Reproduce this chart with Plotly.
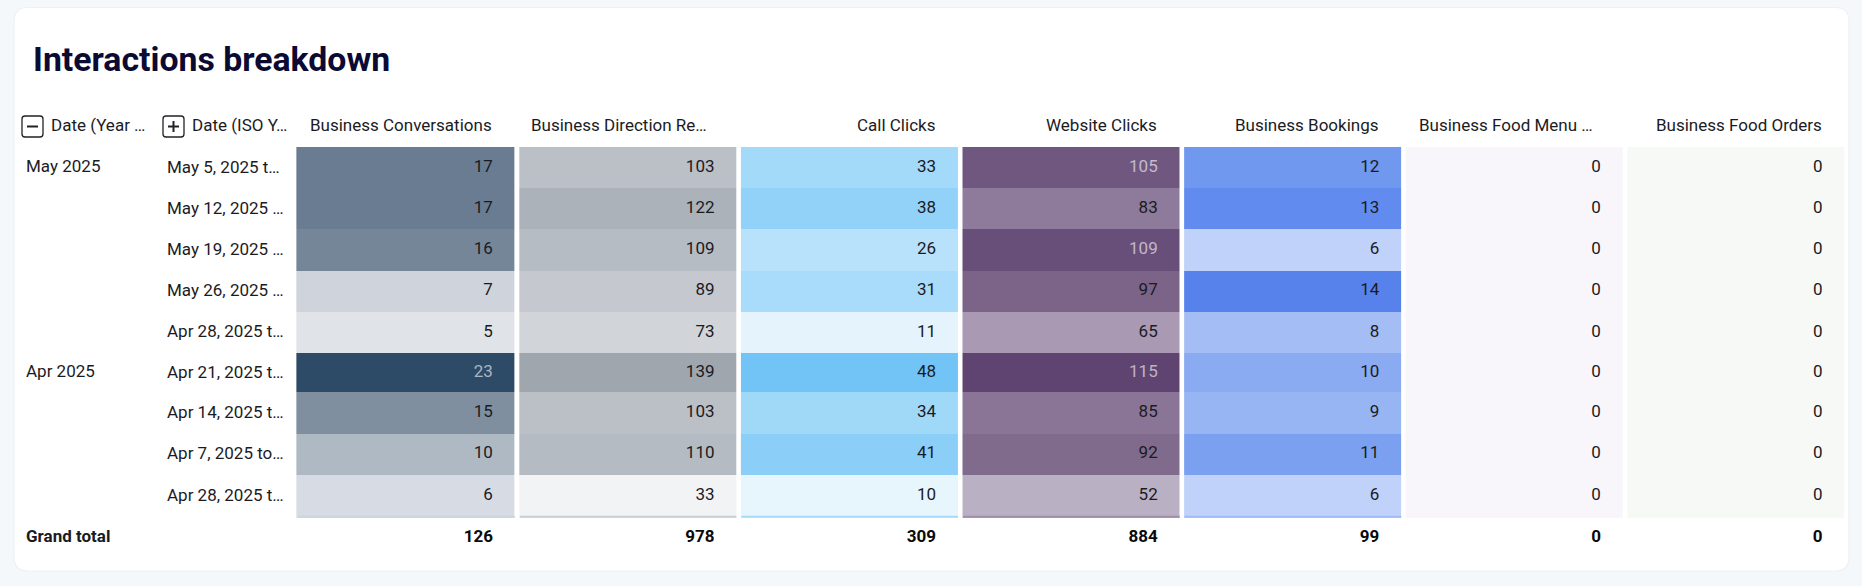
#!/usr/bin/env python3
"""Interactions breakdown: pivot table drawn as per-column heatmaps with text on top."""
import plotly.graph_objects as go

W, H = 1862, 586

TITLE = "Interactions breakdown"
MONTHS = ["May 2025", "", "", "", "", "Apr 2025", "", "", ""]
WEEKS = ["May 5, 2025 t…", "May 12, 2025 …", "May 19, 2025 …", "May 26, 2025 …", "Apr 28, 2025 t…",
         "Apr 21, 2025 t…", "Apr 14, 2025 t…", "Apr 7, 2025 to…", "Apr 28, 2025 t…"]
HEADERS = ["Business Conversations", "Business Direction Re…", "Call Clicks", "Website Clicks",
           "Business Bookings", "Business Food Menu …", "Business Food Orders"]

conversations = [17, 17, 16, 7, 5, 23, 15, 10, 6]
directions = [103, 122, 109, 89, 73, 139, 103, 110, 33]
calls = [33, 38, 26, 31, 11, 48, 34, 41, 10]
website = [105, 83, 109, 97, 65, 115, 85, 92, 52]
bookings = [12, 13, 6, 14, 8, 10, 9, 11, 6]
food_menu = [0, 0, 0, 0, 0, 0, 0, 0, 0]
food_orders = [0, 0, 0, 0, 0, 0, 0, 0, 0]
COLUMNS = [conversations, directions, calls, website, bookings, food_menu, food_orders]
TOTALS = [126, 978, 309, 884, 99, 0, 0]

# value -> cell colour
SCALES = [
    [(5, "#e0e3e8"), (6, "#d7dbe3"), (7, "#cfd3dc"), (10, "#afb9c3"), (15, "#7f8f9f"),
     (16, "#758699"), (17, "#697c91"), (23, "#2d4a66")],
    [(33, "#f2f3f5"), (73, "#d1d4d8"), (89, "#c5c8cf"), (103, "#bbbfc6"), (110, "#b5bbc2"),
     (122, "#acb2b9"), (139, "#9fa6ae")],
    [(10, "#e7f5fd"), (11, "#e5f4fc"), (26, "#b8e1fb"), (31, "#a9dcfa"), (33, "#a3d9f9"),
     (34, "#a0d8f8"), (38, "#93d2f8"), (41, "#8bcef8"), (48, "#72c4f6")],
    [(52, "#bab0c4"), (65, "#a999b2"), (83, "#8e7a9a"), (85, "#8b7597"), (92, "#816b8d"),
     (97, "#7b6488"), (105, "#6f577f"), (109, "#684f79"), (115, "#5f4472")],
    [(6, "#c0d1fa"), (8, "#a5bdf5"), (9, "#97b4f3"), (10, "#8aaaf2"), (11, "#7ca0f0"),
     (12, "#7098ee"), (13, "#618bef"), (14, "#5782ec")],
    [(0, "#f8f6fa"), (1, "#f8f6fa")],
    [(0, "#f7f9f7"), (1, "#f7f9f7")],
]
BOTTOM_STRIPE = ["#cfd3dc", "#c9ccd0", "#a7d9f9", "#a08eaa", "#9fbcf8", None, None]
# (column, value) pairs whose number is printed pale on a dark cell
PALE_CELLS = {(0, 23), (3, 105), (3, 109), (3, 115)}

# rows are not quite even in the original
ROW_EDGES = [0, 1, 2, 3, 4, 5, 5.95, 6.96, 7.95, 9]
ROW_MID = [(a + b) / 2 for a, b in zip(ROW_EDGES, ROW_EDGES[1:])]
TOTAL_ROW, HEADER_ROW = 9.48, -0.53

FONT = "Roboto"
FS = 17
INK, INK_LIGHT = "#1b1b1f", "rgba(255,255,255,0.6)"
PITCH, ROW_H = 221.6, 41.2
COL0_CENTER, ROWS_TOP = 406.5, 147


def norm_scale(pairs):
    lo, hi = pairs[0][0], pairs[-1][0]
    return [[(v - lo) / (hi - lo), c] for v, c in pairs]


fig = go.Figure()
for i, (vals, scale) in enumerate(zip(COLUMNS, SCALES)):
    left = i - 0.5 - (0.006 if i == 0 else 0)  # first column is a touch wider
    fig.add_trace(go.Heatmap(
        z=[[v] for v in vals], x=[left, i + 0.5], y=ROW_EDGES,
        zmin=scale[0][0], zmax=scale[-1][0], colorscale=norm_scale(scale),
        showscale=False, xgap=5, hoverinfo="skip"))

# cell values, right aligned inside each column
xs, ys, txt, cols = [], [], [], []
for i, vals in enumerate(COLUMNS):
    for r, v in enumerate(vals):
        xs.append(i + 0.39)
        ys.append(ROW_MID[r])
        txt.append(str(v))
        cols.append(INK_LIGHT if (i, v) in PALE_CELLS else INK)
fig.add_trace(go.Scatter(x=xs, y=ys, text=txt, mode="text", textposition="middle left",
                         textfont=dict(family=FONT, size=FS, color=cols), hoverinfo="skip"))
fig.add_trace(go.Scatter(x=[i + 0.39 for i in range(7)], y=[TOTAL_ROW] * 7, text=[str(t) for t in TOTALS],
                         mode="text", textposition="middle left",
                         textfont=dict(family=FONT, size=FS, color="#0a0a0a", weight=700), hoverinfo="skip"))

shapes = [dict(type="path", xref="paper", yref="paper", layer="below",
               path="M %f %f L %f %f Q %f %f %f %f L %f %f Q %f %f %f %f L %f %f Q %f %f %f %f L %f %f Q %f %f %f %f Z" % (
                   28 / W, 1 - 7.5 / H, 1835 / W, 1 - 7.5 / H, 1849 / W, 1 - 7.5 / H, 1849 / W, 1 - 21.5 / H,
                   1849 / W, 1 - 557 / H, 1849 / W, 1 - 571 / H, 1835 / W, 1 - 571 / H,
                   28 / W, 1 - 571 / H, 14 / W, 1 - 571 / H, 14 / W, 1 - 557 / H,
                   14 / W, 1 - 21.5 / H, 14 / W, 1 - 7.5 / H, 28 / W, 1 - 7.5 / H),
               fillcolor="white", line=dict(color="#eef1f4", width=1.2))]

# thin sliver of colour along the bottom of the last row
for i, c in enumerate(BOTTOM_STRIPE):
    if c:
        shapes.append(dict(type="rect", xref="x", yref="y", x0=i - 0.4887, x1=i + 0.4887, y0=8.95, y1=9.0,
                           fillcolor=c, line=dict(width=0)))


def icon(x0, y0, plus):
    size, r = 21, 3
    x1, y1 = x0 + size, y0 + size
    p = lambda x, y: "%f %f" % (x / W, 1 - y / H)
    out = [dict(type="path", xref="paper", yref="paper", line=dict(color="#222226", width=1.3),
                path="M %s L %s Q %s %s L %s Q %s %s L %s Q %s %s L %s Q %s %s Z" % (
                    p(x0 + r, y0), p(x1 - r, y0), p(x1, y0), p(x1, y0 + r), p(x1, y1 - r), p(x1, y1), p(x1 - r, y1),
                    p(x0 + r, y1), p(x0, y1), p(x0, y1 - r), p(x0, y0 + r), p(x0, y0), p(x0 + r, y0))),
           dict(type="line", xref="paper", yref="paper", x0=(x0 + 5) / W, x1=(x1 - 5) / W,
                y0=1 - (y0 + size / 2) / H, y1=1 - (y0 + size / 2) / H, line=dict(color="#222226", width=2))]
    if plus:
        out.append(dict(type="line", xref="paper", yref="paper", x0=(x0 + size / 2) / W, x1=(x0 + size / 2) / W,
                        y0=1 - (y0 + 5) / H, y1=1 - (y1 - 5) / H, line=dict(color="#222226", width=2)))
    return out


shapes += icon(22, 116, False) + icon(163, 116, True)

notes = [dict(text="<b>%s</b>" % TITLE, xref="paper", yref="paper", x=31 / W, y=1 - 60 / H, xanchor="left",
              yanchor="middle", showarrow=False, font=dict(family=FONT, size=33.8, color="#0a0a33"))]


def left_label(text, x_px, row, yshift=0, **font):
    notes.append(dict(text=text, xref="paper", yref="y", x=x_px / W, y=row, yshift=yshift, xanchor="left",
                      yanchor="middle", showarrow=False, font=dict(family=FONT, size=FS, color=INK, **font)))


left_label("Date (Year …", 49, HEADER_ROW)
left_label("Date (ISO Y…", 190, HEADER_ROW)
for r, (m, w) in enumerate(zip(MONTHS, WEEKS)):
    if m:
        left_label(m, 23.8, ROW_MID[r], yshift=1.5)
    left_label(w, 164.8, ROW_MID[r], yshift=1)
left_label("Grand total", 23.8, TOTAL_ROW - 0.03, weight=700)

for i, h in enumerate(HEADERS):
    shift = -5 if h.endswith("…") else 2
    notes.append(dict(text=h, xref="x", yref="y", x=i + 0.386, xshift=shift, y=HEADER_ROW, xanchor="right",
                      yanchor="middle", showarrow=False, font=dict(family=FONT, size=FS, color=INK)))

fig.update_layout(
    width=W, height=H, margin=dict(l=0, r=0, t=0, b=0), showlegend=False,
    paper_bgcolor="#f5f8fa", plot_bgcolor="rgba(0,0,0,0)",
    shapes=shapes, annotations=notes,
    xaxis=dict(range=[-COL0_CENTER / PITCH, (W - COL0_CENTER) / PITCH], visible=False, fixedrange=True),
    yaxis=dict(range=[(H - ROWS_TOP) / ROW_H, -ROWS_TOP / ROW_H], visible=False, fixedrange=True),
)
fig.write_html("out.html", config=dict(displayModeBar=False),
               post_script="document.body.style.margin='0';document.body.style.background='#f5f8fa';")
